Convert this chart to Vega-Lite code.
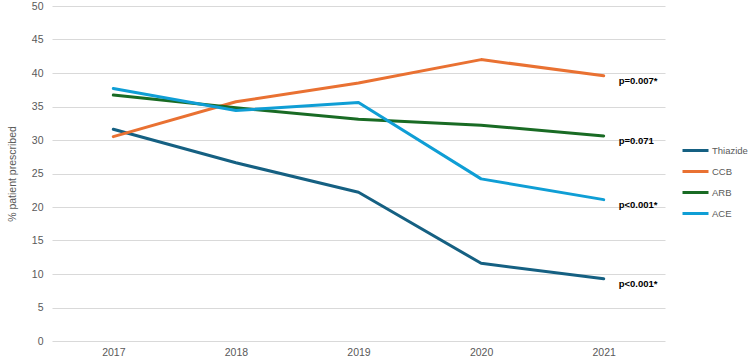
{
  "$schema": "https://vega.github.io/schema/vega-lite/v6.json",
  "autosize": "none",
  "width": 613,
  "height": 335,
  "padding": {"left": 52, "top": 6, "right": 85, "bottom": 20},
  "background": "white",
  "config": {
    "view": {"stroke": null},
    "font": "Liberation Sans"
  },
  "datasets": {
    "share": [
      {"year": "2017", "drug": "Thiazide", "pct": 31.6},
      {"year": "2018", "drug": "Thiazide", "pct": 26.6},
      {"year": "2019", "drug": "Thiazide", "pct": 22.2},
      {"year": "2020", "drug": "Thiazide", "pct": 11.6},
      {"year": "2021", "drug": "Thiazide", "pct": 9.3},
      {"year": "2017", "drug": "CCB", "pct": 30.5},
      {"year": "2018", "drug": "CCB", "pct": 35.7},
      {"year": "2019", "drug": "CCB", "pct": 38.5},
      {"year": "2020", "drug": "CCB", "pct": 42.0},
      {"year": "2021", "drug": "CCB", "pct": 39.6},
      {"year": "2017", "drug": "ARB", "pct": 36.7},
      {"year": "2018", "drug": "ARB", "pct": 34.8},
      {"year": "2019", "drug": "ARB", "pct": 33.1},
      {"year": "2020", "drug": "ARB", "pct": 32.2},
      {"year": "2021", "drug": "ARB", "pct": 30.6},
      {"year": "2017", "drug": "ACE", "pct": 37.7},
      {"year": "2018", "drug": "ACE", "pct": 34.4},
      {"year": "2019", "drug": "ACE", "pct": 35.6},
      {"year": "2020", "drug": "ACE", "pct": 24.2},
      {"year": "2021", "drug": "ACE", "pct": 21.1}
    ],
    "trend": [
      {"year": "2021", "drug": "CCB", "pct": 39.6, "p": "p=0.007*"},
      {"year": "2021", "drug": "ARB", "pct": 30.6, "p": "p=0.071"},
      {"year": "2021", "drug": "ACE", "pct": 21.1, "p": "p<0.001*"},
      {"year": "2021", "drug": "Thiazide", "pct": 9.3, "p": "p<0.001*"}
    ]
  },
  "encoding": {
    "x": {
      "field": "year",
      "type": "ordinal",
      "scale": {"type": "point", "padding": 0.5},
      "axis": {
        "title": null,
        "labelAngle": 0,
        "ticks": false,
        "domain": false,
        "grid": false,
        "labelFont": "Liberation Sans",
        "labelFontSize": 10.5,
        "labelColor": "#595959",
        "labelPadding": 6
      }
    },
    "y": {
      "field": "pct",
      "type": "quantitative",
      "scale": {"domain": [0, 50], "nice": false},
      "axis": {
        "title": "% patient prescribed",
        "titleFont": "Liberation Sans",
        "titleFontSize": 10.5,
        "titleFontWeight": "normal",
        "titleColor": "#595959",
        "titlePadding": 14,
        "values": [0, 5, 10, 15, 20, 25, 30, 35, 40, 45, 50],
        "ticks": false,
        "domain": false,
        "gridColor": "#D9D9D9",
        "gridWidth": 1,
        "labelFont": "Liberation Sans",
        "labelFontSize": 10.5,
        "labelColor": "#595959",
        "labelPadding": 9
      }
    }
  },
  "layer": [
    {
      "data": {"name": "share"},
      "mark": {"type": "line", "strokeWidth": 3, "strokeCap": "round", "strokeJoin": "round"},
      "encoding": {
        "color": {
          "field": "drug",
          "type": "nominal",
          "scale": {
            "domain": ["Thiazide", "CCB", "ARB", "ACE"],
            "range": ["#156082", "#E97132", "#196B24", "#0F9ED5"]
          },
          "legend": {
            "title": null,
            "orient": "none",
            "legendX": 629,
            "legendY": 130,
            "symbolType": "M-1,0L1,0",
            "symbolSize": 676,
            "symbolStrokeWidth": 3,
            "labelFont": "Liberation Sans",
            "labelFontSize": 9.5,
            "labelColor": "#595959",
            "labelOffset": 2,
            "rowPadding": 0
          }
        }
      }
    },
    {
      "data": {"name": "trend"},
      "mark": {
        "type": "text",
        "align": "left",
        "baseline": "middle",
        "dx": 15,
        "dy": 5,
        "font": "Liberation Sans",
        "fontSize": 9.5,
        "fontWeight": "bold",
        "color": "#000000"
      },
      "encoding": {
        "text": {"field": "p", "type": "nominal"}
      }
    }
  ]
}
